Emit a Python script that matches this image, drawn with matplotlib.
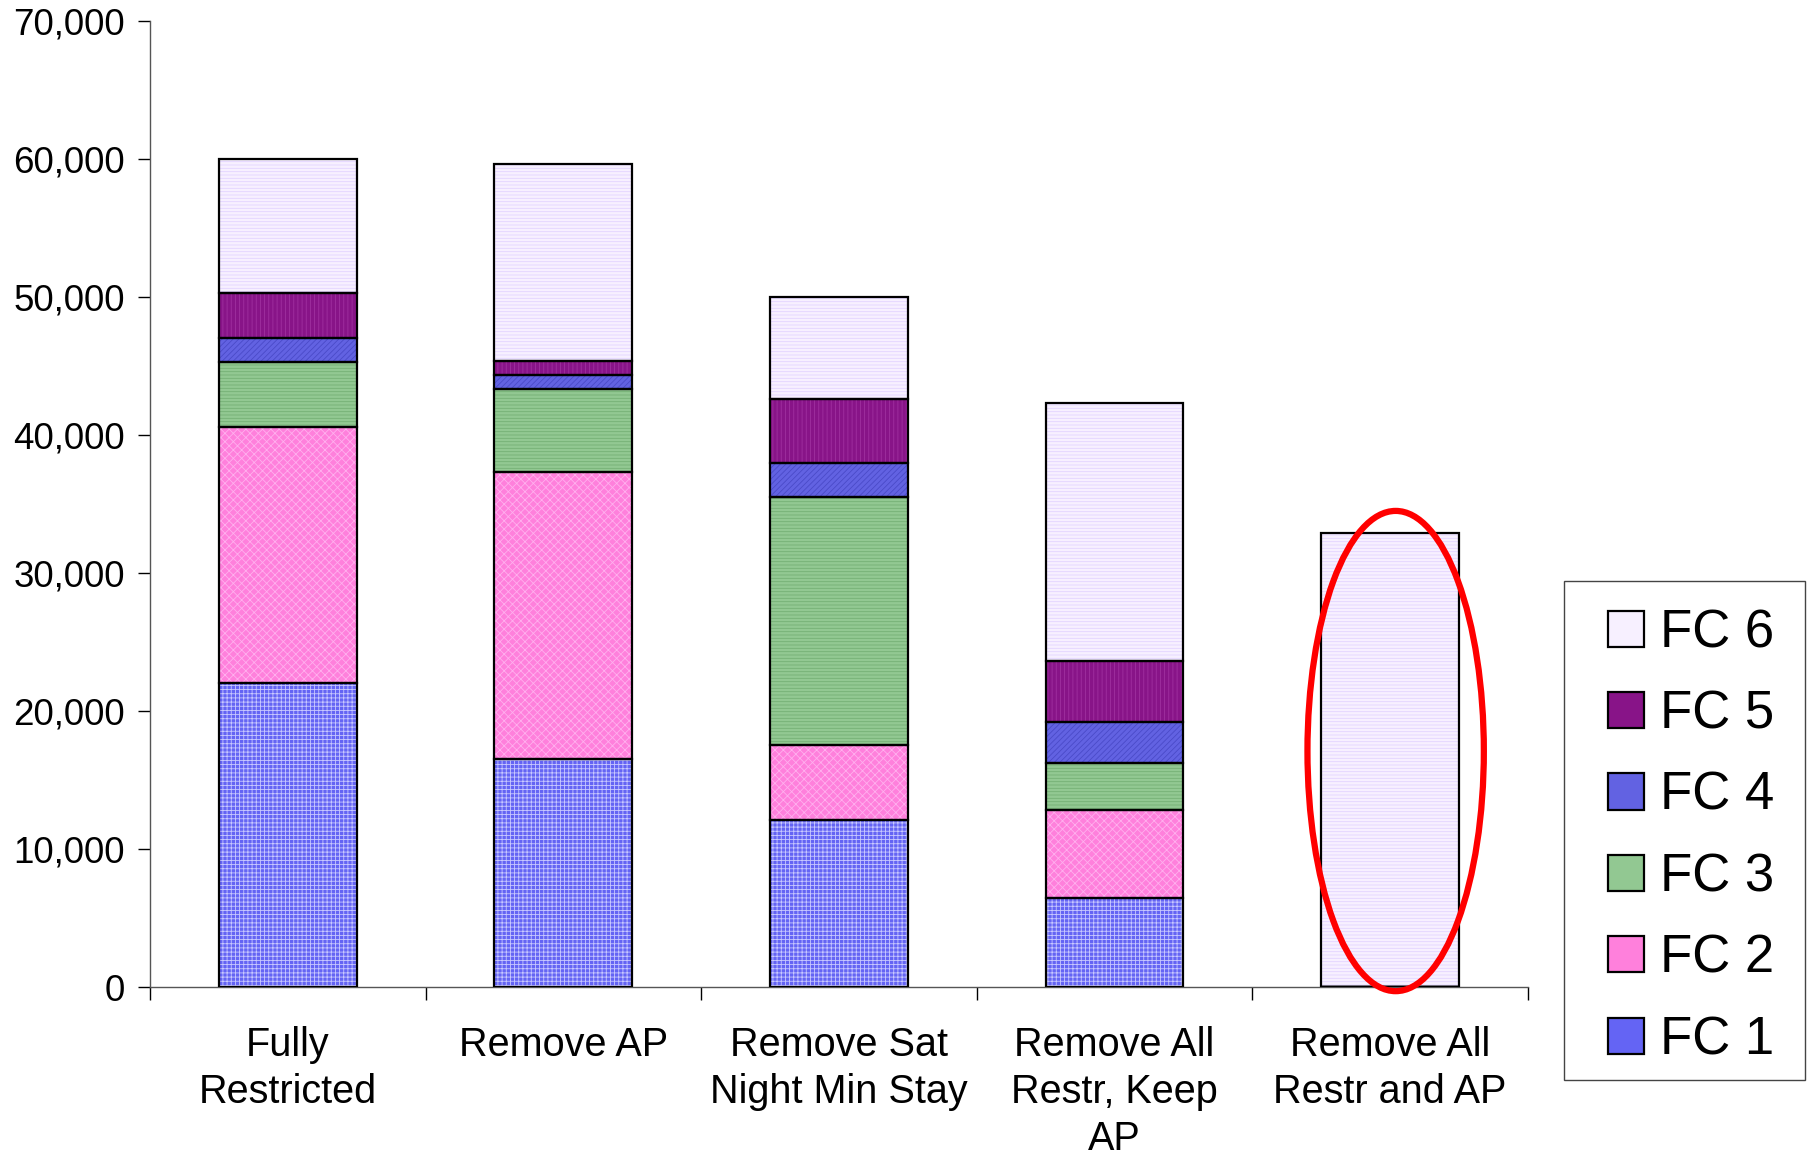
#!/usr/bin/env python3

import matplotlib.pyplot as plt
import matplotlib.patches as mpatches
from matplotlib.ticker import FuncFormatter
import numpy as np

plt.rcParams['font.family'] = ['Liberation Sans', 'DejaVu Sans']
plt.rcParams['hatch.linewidth'] = 0.6

SCENARIOS = ["Fully\nRestricted", "Remove AP", "Remove Sat\nNight Min Stay",
             "Remove All\nRestr, Keep\nAP", "Remove All\nRestr and AP"]
CLASSES = ["FC 1", "FC 2", "FC 3", "FC 4", "FC 5", "FC 6"]

# fare class bookings per scenario (stacked bottom to top)
FC1 = [22000, 16550, 12100, 6450, 0]
FC2 = [18600, 20800, 5450, 6400, 0]
FC3 = [4700, 6000, 17950, 3350, 0]
FC4 = [1700, 1000, 2500, 3000, 0]
FC5 = [3300, 1000, 4600, 4450, 0]
FC6 = [9700, 14300, 7400, 18650, 32900]

FACE = ["#6464f4", "#ff80dc", "#92c892", "#6262e2", "#881488", "#f7f0ff"]
HATCH_COL = ["#c8c8ff", "#ffb0ee", "#74b074", "#4a4ac8", "#a030a0", "#e2d4ff"]
HATCHES = ["++++", "xxxx", "-----", "//////", "||||", "-----"]

fig = plt.figure(figsize=(18.11, 11.54), dpi=100)
ax = fig.add_axes([0.0828, 0.1447, 0.7609, 0.8371])

x = np.arange(len(SCENARIOS))
width = 0.5
bottom = np.zeros(len(SCENARIOS))
handles = []
for name, vals, fc, hc, h in zip(CLASSES, [FC1, FC2, FC3, FC4, FC5, FC6],
                                 FACE, HATCH_COL, HATCHES):
    vals = np.array(vals, dtype=float)
    ax.bar(x, vals, width, bottom=bottom, color=fc, edgecolor=hc,
           hatch=h, linewidth=0, zorder=2)
    ax.bar(x, vals, width, bottom=bottom, fill=False, edgecolor="black",
           linewidth=1.6, zorder=3)
    handles.append(mpatches.Patch(facecolor=fc, edgecolor="black",
                                  linewidth=1.6, label=name))
    bottom += vals

ax.set_xlim(-0.5, 4.5)
ax.set_ylim(0, 70000)
ax.set_yticks(np.arange(0, 70001, 10000))
ax.yaxis.set_major_formatter(FuncFormatter(lambda v, p: f"{int(v):,}"))
ax.tick_params(axis="y", labelsize=26.5, length=9, width=1, pad=9)

ax.set_xticks(x)
ax.set_xticklabels(SCENARIOS, fontsize=28.5, linespacing=1.3, va="top")
ax.set_xticks(np.arange(-0.5, 4.6, 1), minor=True)
ax.tick_params(axis="x", which="major", length=0, pad=28)
ax.tick_params(axis="x", which="minor", length=9, width=1)

for side in ("top", "right"):
    ax.spines[side].set_visible(False)
for side in ("left", "bottom"):
    ax.spines[side].set_linewidth(1)
    ax.spines[side].set_color("#555555")

# highlight the last scenario
ax.add_patch(mpatches.Ellipse((4.02, 17100), 0.64, 34800, fill=False,
                              edgecolor="#ff0000", linewidth=4.5,
                              clip_on=False, zorder=5))

# legend box drawn separately so its padding can be set freely
fig.add_artist(mpatches.Rectangle((0.8636, 0.0641), 0.1331, 0.4324,
                                  transform=fig.transFigure, fill=False,
                                  edgecolor="#444444", linewidth=1))
fig.legend(handles[::-1], CLASSES[::-1], loc="upper left",
           bbox_to_anchor=(0.8879, 0.473), fontsize=38,
           frameon=False, handlelength=0.68, handleheight=0.68,
           handletextpad=0.3, labelspacing=0.595, borderpad=0,
           borderaxespad=0)

plt.savefig("out.png", dpi=100)
